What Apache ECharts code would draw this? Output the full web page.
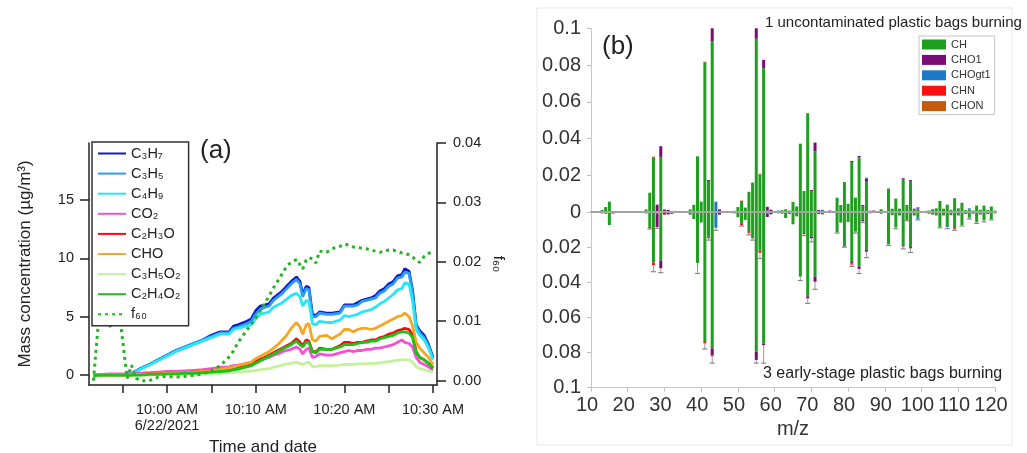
<!DOCTYPE html>
<html><head><meta charset="utf-8">
<script src="https://cdn.jsdelivr.net/npm/echarts@6/dist/echarts.min.js"></script>
<style>html,body{margin:0;padding:0;background:#fff}#c{width:1027px;height:453px}</style>
</head><body><div id="c"></div>
<script>
// ================= Panel (a) data =================
// time in minutes relative to 10:00 AM, 6/22/2021
const timeMin = [-8.3,-7.5,-6.3,-5.5,-4.5,-4.0,-3.5,-3.0,-2.0,-1.0,0,1,2,3,4,5,6,7,7.5,8,9,9.5,10,10.5,11,11.5,12,12.5,13,13.5,14,14.6,15.0,15.3,15.7,16.0,16.4,16.8,17.2,18,18.6,19.5,20.0,20.5,21,21.5,22,22.5,23,23.5,24,24.5,25,25.5,26,26.5,26.8,27.3,27.7,28.1,28.5,29,29.5,30];
const C3H7 = [-0.1,0,0.05,0,0.05,0.15,0.35,0.55,0.9,1.3,1.7,2.1,2.4,2.7,3.0,3.4,3.7,3.7,4.2,4.3,4.6,4.8,5.5,5.9,6.0,6.1,6.6,6.9,7.2,7.6,8.0,8.4,8.0,6.9,7.6,7.5,5.2,5.1,5.4,5.3,5.3,5.4,6.0,6.0,6.0,6.2,6.4,6.5,6.6,6.8,7.2,7.4,7.8,8.0,8.5,8.6,9.1,8.9,7.2,4.3,3.8,3.4,2.6,1.5];
const C3H5 = [-0.1,0,0.05,0,0.05,0.15,0.35,0.55,0.9,1.3,1.7,2.1,2.4,2.7,3.0,3.3,3.6,3.6,4.0,4.1,4.4,4.6,5.2,5.6,5.8,5.9,6.4,6.7,7.0,7.4,7.8,8.2,7.8,6.7,7.4,7.3,5.0,5.0,5.3,5.2,5.2,5.3,5.9,5.9,5.9,6.0,6.3,6.4,6.5,6.6,7.0,7.2,7.6,7.8,8.3,8.4,8.8,8.7,7.0,4.2,3.6,3.2,2.5,1.4];
const C4H9 = [-0.1,0,0.05,0,0.05,0.15,0.3,0.5,0.85,1.25,1.6,2.0,2.3,2.6,2.9,3.2,3.5,3.5,3.9,4.0,4.2,4.3,4.8,5.2,5.3,5.4,5.8,6.0,6.2,6.5,6.8,7.0,6.7,5.9,6.4,6.3,4.4,4.3,4.6,4.5,4.5,4.7,5.1,5.0,5.1,5.2,5.4,5.5,5.6,5.8,6.1,6.3,6.6,6.9,7.3,7.4,7.9,7.8,6.3,3.9,3.4,3.0,2.3,1.3];
const CO2 = [0,0.05,0.1,0.1,0.1,0.1,0.15,0.15,0.2,0.25,0.3,0.3,0.35,0.4,0.45,0.55,0.65,0.7,0.8,0.85,1.0,1.05,1.2,1.3,1.4,1.5,1.7,1.8,2.0,2.1,2.2,2.4,2.2,1.8,2.2,2.3,1.5,1.6,1.8,1.7,1.7,1.9,2.0,2.1,2.0,2.1,2.1,2.2,2.2,2.3,2.3,2.4,2.5,2.6,2.8,3.0,2.8,2.7,2.4,1.5,1.1,0.9,0.7,0.4];
const C2H3O = [-0.05,0,0,0,0,0,0.05,0.05,0.1,0.1,0.15,0.2,0.2,0.25,0.3,0.35,0.45,0.55,0.6,0.7,0.9,1.0,1.2,1.35,1.5,1.7,1.9,2.1,2.3,2.5,2.7,3.1,2.8,2.5,3.0,2.9,2.0,2.0,2.3,2.2,2.2,2.5,2.8,2.8,2.7,2.8,2.8,2.9,3.0,3.0,3.2,3.3,3.5,3.6,3.8,3.9,4.0,3.9,3.4,2.0,1.5,1.3,1.0,0.6];
const CHO = [-0.05,0,0,0,0,0,0.05,0.05,0.1,0.1,0.15,0.2,0.2,0.25,0.3,0.35,0.5,0.6,0.7,0.8,1.0,1.1,1.4,1.6,1.8,2.0,2.3,2.6,3.0,3.4,4.0,4.5,4.1,3.5,4.3,4.4,3.0,2.9,3.3,3.4,3.1,3.5,3.9,3.9,3.7,3.9,4.0,4.0,3.9,4.0,4.2,4.4,4.6,4.8,5.0,5.1,5.3,5.0,4.2,2.8,2.3,1.9,1.5,0.9];
const C3H5O2 = [-0.05,0,0,0,0,0,0,0,0,0.05,0.05,0.05,0.05,0.1,0.1,0.1,0.15,0.2,0.2,0.25,0.3,0.35,0.4,0.45,0.5,0.55,0.65,0.75,0.85,0.95,1.0,1.1,1.0,0.9,1.05,1.1,0.75,0.7,0.8,0.8,0.8,0.85,0.9,0.9,0.9,0.95,0.95,0.95,1.0,1.0,1.05,1.1,1.15,1.2,1.25,1.3,1.3,1.3,1.1,0.7,0.55,0.45,0.35,0.25];
const C2H4O2 = [-0.05,0,0,0,0,0,0,0,0.05,0.05,0.1,0.1,0.15,0.15,0.2,0.25,0.3,0.35,0.45,0.5,0.7,0.8,1.0,1.2,1.4,1.6,1.8,2.0,2.2,2.4,2.6,2.9,2.6,2.4,2.8,2.8,2.0,1.9,2.2,2.2,2.2,2.4,2.6,2.6,2.6,2.7,2.8,2.8,2.9,2.9,3.1,3.2,3.3,3.4,3.6,3.7,3.7,3.6,3.2,1.9,1.5,1.3,1.0,0.6];
const f60 = [0,0.014,0.0088,0.013,0.0004,0.0026,0.0004,0,0,0.0006,0.0007,0.0006,0.0007,0.0009,0.0011,0.0017,0.0025,0.004,0.005,0.0064,0.0085,0.0095,0.0106,0.0117,0.013,0.0142,0.0156,0.0168,0.018,0.0193,0.0199,0.0204,0.0195,0.0188,0.0203,0.0207,0.0205,0.0198,0.0218,0.0216,0.0222,0.0226,0.023,0.0228,0.0225,0.0224,0.0223,0.0222,0.022,0.0218,0.0216,0.0218,0.022,0.022,0.0217,0.0215,0.0214,0.0212,0.0208,0.0203,0.0199,0.0209,0.0214,0.0218];
const namesA = ['C₃H₇','C₃H₅','C₄H₉','CO₂','C₂H₃O','CHO','C₃H₅O₂','C₂H₄O₂','f₆₀'];
const xTickValues = [0,10,20,30];
const xTickLabels = ['10:00 AM\n6/22/2021','10:10 AM','10:20 AM','10:30 AM'];
const xMinorTicks = [-5,0,5,10,15,20,25,30];
const yLeftTicks = [0,5,10,15];
const yRightTicks = [0,0.01,0.02,0.03,0.04];

// ================= Panel (b) data =================
// m/z axis categories (10..120), labelled every 10
const mzAxis = [10,11,12,13,14,15,16,17,18,19,20,21,22,23,24,25,26,27,28,29,30,31,32,33,34,35,36,37,38,39,40,41,42,43,44,45,46,47,48,49,50,51,52,53,54,55,56,57,58,59,60,61,62,63,64,65,66,67,68,69,70,71,72,73,74,75,76,77,78,79,80,81,82,83,84,85,86,87,88,89,90,91,92,93,94,95,96,97,98,99,100,101,102,103,104,105,106,107,108,109,110,111,112,113,114,115,116,117,118,119,120];
// m/z of the measured bars (12..120)
const mz = [12,13,14,15,16,17,18,19,20,21,22,23,24,25,26,27,28,29,30,31,32,33,34,35,36,37,38,39,40,41,42,43,44,45,46,47,48,49,50,51,52,53,54,55,56,57,58,59,60,61,62,63,64,65,66,67,68,69,70,71,72,73,74,75,76,77,78,79,80,81,82,83,84,85,86,87,88,89,90,91,92,93,94,95,96,97,98,99,100,101,102,103,104,105,106,107,108,109,110,111,112,113,114,115,116,117,118,119,120];
const familiesB = ['CH','CHO1','CHOgt1','CHN','CHON'];
// spectrum 1 (upper, uncontaminated plastic bags burning)
const top_CH = [0.0003,0.0011,0.0027,0.0056,0.0004,0.0002,0.0002,0.0001,0.0001,0.0001,
0.0001,0.0001,0.0003,0.0014,0.0105,0.0295,0.0005,0.0300,0.0002,0.0002,
0.0001,0.0001,0.0001,0.0001,0.0003,0.0014,0.0039,0.0303,0.0056,0.0815,
0.0165,0.0928,0.0003,0.0003,0.0003,0.0002,0.0002,0.0006,0.0027,0.0060,
0.0024,0.0110,0.0160,0.0943,0.0205,0.0783,0.0008,0.0003,0.0003,0.0002,
0.0010,0.0015,0.0008,0.0055,0.0030,0.0372,0.0114,0.0535,0.0112,0.0330,
0.0003,0.0002,0.0004,0.0002,0.0002,0.0078,0.0038,0.0163,0.0044,0.0272,
0.0078,0.0298,0.0030,0.0165,0.0003,0.0002,0.0003,0.0015,0.0003,0.0128,
0.0018,0.0073,0.0018,0.0180,0.0038,0.0168,0.0012,0.0014,0.0003,0.0006,
0.0008,0.0015,0.0020,0.0060,0.0018,0.0040,0.0012,0.0075,0.0020,0.0046,
0.0010,0.0014,0.0008,0.0035,0.0012,0.0035,0.0010,0.0030,0.0008];
const top_CHO1 = [0,0,0,0,0,0,0,0,0,0,
0,0,0,0,0,0,0.0035,0.0058,0.0008,0.0010,
0.0004,0,0,0,0,0,0,0,0,0,
0.0009,0.0072,0,0.0010,0,0,0,0,0,0,
0,0,0,0.0057,0,0.0045,0.0020,0.0010,0,0,
0,0,0,0,0,0,0,0,0.0008,0.0048,
0.0008,0,0,0.0006,0,0,0,0,0,0.0006,
0,0.0007,0.0008,0.0016,0.0004,0.0006,0,0,0,0,
0,0,0,0.0004,0,0.0006,0.0006,0.0006,0,0,
0,0,0,0,0,0,0,0,0,0.0004,
0,0,0,0,0,0,0,0,0];
const top_CHOgt1 = [0,0,0,0,0,0,0,0,0,0,
0,0,0,0,0,0,0,0,0,0,
0,0,0,0,0,0,0,0,0,0,
0,0,0.0053,0.0003,0,0,0,0,0,0,
0,0,0,0,0,0,0,0,0,0.0006,
0,0,0,0,0,0,0,0,0,0,
0,0.0010,0,0,0.0004,0,0,0,0,0,
0,0,0,0.0006,0,0,0,0,0,0,
0,0,0,0,0,0,0,0.0006,0,0,
0,0,0,0,0,0,0,0,0,0,
0,0.0006,0,0,0,0,0,0,0];
const top_CHN = [0,0,0,0,0,0,0,0,0,0,
0,0,0,0,0,0.0006,0,0,0.0004,0,
0,0,0,0,0,0,0,0,0,0.0003,
0,0,0,0,0,0,0,0,0,0.0002,
0,0,0,0,0.0003,0,0,0,0,0,
0,0,0,0,0,0,0,0.0003,0,0,
0,0,0,0,0,0,0,0,0,0,
0,0,0,0,0,0,0,0,0,0,
0,0,0,0,0,0,0,0,0,0,
0,0,0,0,0,0,0,0,0,0,
0,0,0,0,0,0,0,0,0];
const top_CHON = [0,0,0,0,0,0,0,0,0,0,
0,0,0,0,0,0,0,0,0,0,
0,0,0,0,0,0,0,0,0,0,
0,0.0002,0,0,0,0,0,0,0,0,
0,0,0,0,0,0,0,0,0,0,
0,0,0,0,0,0,0,0,0,0,
0,0,0,0,0,0,0,0,0,0,
0,0,0,0,0,0,0,0,0,0,
0,0,0,0,0,0,0,0,0,0,
0,0,0,0,0,0,0,0,0,0,
0,0,0,0,0,0,0,0,0];
// spectrum 3 (lower, early-stage plastic bags burning)
const bot_CH = [0.0003,0.0008,0.0010,0.0074,0.0010,0.0002,0.0002,0.0001,0.0001,0.0001,
0.0001,0.0001,0.0002,0.0008,0.0085,0.0288,0.0010,0.0277,0.0002,0.0002,
0.0002,0.0001,0.0001,0.0001,0.0003,0.0015,0.0040,0.0290,0.0060,0.0740,
0.0140,0.0776,0.0005,0.0003,0.0004,0.0002,0.0002,0.0008,0.0030,0.0068,
0.0045,0.0115,0.0143,0.0795,0.0220,0.0750,0.0008,0.0003,0.0003,0.0002,
0.0010,0.0034,0.0012,0.0070,0.0025,0.0368,0.0120,0.0480,0.0140,0.0368,
0.0003,0.0002,0.0005,0.0002,0.0002,0.0108,0.0060,0.0190,0.0057,0.0285,
0.0112,0.0310,0.0045,0.0215,0.0003,0.0006,0.0004,0.0010,0.0003,0.0184,
0.0018,0.0088,0.0020,0.0190,0.0046,0.0200,0.0020,0.0032,0.0004,0.0006,
0.0010,0.0015,0.0020,0.0085,0.0020,0.0080,0.0018,0.0092,0.0020,0.0074,
0.0012,0.0030,0.0010,0.0052,0.0015,0.0048,0.0012,0.0040,0.0008];
const bot_CHO1 = [0,0,0,0,0,0,0,0,0,0,
0,0,0,0,0,0,0.0075,0.0043,0.0010,0.0012,
0.0008,0,0,0,0,0,0,0,0,0,
0.0006,0.0040,0,0.0012,0,0,0,0,0,0,
0,0,0,0.0047,0,0.0008,0.0020,0.0010,0,0,
0,0,0,0,0,0,0,0.0012,0.0010,0.0029,
0.0008,0,0,0,0.0004,0,0,0.0007,0,0.0008,
0,0.0014,0.0008,0.0011,0.0004,0,0,0,0,0,
0,0,0,0.0007,0,0.0007,0,0,0,0,
0,0,0,0,0,0,0,0,0,0,
0,0,0,0,0,0,0,0,0];
const bot_CHOgt1 = [0,0,0,0,0,0,0,0,0,0,
0,0,0,0,0,0,0,0,0,0,
0,0,0,0,0,0,0,0,0,0,
0,0,0.0085,0,0,0,0,0,0,0,
0,0,0,0,0,0,0,0,0,0.0005,
0,0,0,0,0,0,0,0,0,0,
0,0.0012,0,0.0004,0,0.0008,0,0,0,0,
0,0,0,0,0,0,0,0,0,0,
0,0,0,0,0,0,0,0.0008,0,0,
0,0,0,0,0,0.0006,0,0,0,0,
0,0.0006,0,0.0007,0,0,0,0,0];
const bot_CHN = [0,0,0,0,0,0,0,0,0,0,
0,0,0,0,0.0008,0.0014,0,0,0.0004,0,
0,0,0,0,0,0,0,0,0,0.0007,
0.0004,0,0,0,0,0,0,0,0,0.0006,
0,0.0006,0.0007,0,0.0012,0,0,0,0,0,
0,0,0,0,0,0,0.0007,0,0,0,
0,0,0,0,0,0,0,0,0,0.0007,
0,0,0,0,0,0,0,0,0,0,
0,0,0,0,0,0,0,0,0,0,
0,0,0,0,0,0,0,0.0006,0,0,
0,0,0,0,0,0,0,0,0];
const bot_CHON = [0,0,0,0,0,0,0,0,0,0,
0,0,0,0,0,0,0,0,0,0,
0,0,0,0,0,0,0,0,0,0,
0,0.0007,0,0,0,0,0,0,0,0,
0,0,0,0,0,0,0,0,0,0,
0,0,0,0,0,0,0,0,0,0,
0,0,0,0,0,0,0,0,0,0,
0,0,0,0,0,0,0,0,0,0,
0,0,0,0,0,0,0,0,0,0,
0,0,0,0,0,0,0,0,0,0,
0,0,0,0,0,0,0,0,0];
// error bar ends (lower spectrum)
const errMz  = [26,27,28,29,39,41,42,43,44,51,53,54,55,56,57,67,68,69,70,71,77,79,81,82,83,84,85,91,93,95,96,97,99,105,107,109,111,113,115,117,119];
const errVal = [0.0097,0.034,0.0093,0.0345,0.035,0.078,0.016,0.086,0.0105,0.008,0.013,0.016,0.086,0.0265,0.086,0.039,0.0135,0.052,0.017,0.044,0.012,0.020,0.031,0.012,0.035,0.006,0.026,0.019,0.0095,0.021,0.005,0.023,0.0045,0.009,0.0095,0.0104,0.008,0.004,0.0065,0.0056,0.0045];

// ================= build option =================
const FONT = 'Liberation Sans, Arial, sans-serif';
const lineColors = ['#0c1bc4','#2a9cf2','#2ae6f5','#f550d6','#f20d0d','#f5a623','#c4f29c','#18c418','#22b422'];
const lineData = [C3H7,C3H5,C4H9,CO2,C2H3O,CHO,C3H5O2,C2H4O2];
const barColors = ['#1f9e1f','#7a0c7a','#1f78c4','#ff1010','#c45a10'];
const topSets = [top_CH,top_CHO1,top_CHOgt1,top_CHN,top_CHON];
const botSets = [bot_CH,bot_CHO1,bot_CHOgt1,bot_CHN,bot_CHON];
const onAxis = (arr) => mzAxis.map(m => { const i = mz.indexOf(m); return i < 0 ? 0 : arr[i]; });

const series = [];
lineData.forEach((arr, k) => {
  series.push({name: namesA[k], type:'line', xAxisIndex:0, yAxisIndex:0, symbol:'none',
    lineStyle:{width:2.8, color:lineColors[k]}, itemStyle:{color:lineColors[k]},
    data: timeMin.map((t,i)=>[t, arr[i]])});
});
series.push({name: namesA[8], type:'line', xAxisIndex:0, yAxisIndex:1, symbol:'none',
  lineStyle:{width:3, color:lineColors[8], type:[3,4]}, itemStyle:{color:lineColors[8]},
  data: timeMin.map((t,i)=>[t, f60[i]])});

familiesB.forEach((fam, k) => {
  series.push({name: fam, type:'bar', xAxisIndex:1, yAxisIndex:2, stack:'upper', barWidth:3,
    itemStyle:{color:barColors[k]}, data: onAxis(topSets[k])});
  series.push({name: fam, type:'bar', xAxisIndex:2, yAxisIndex:3, stack:'lower', barWidth:3,
    itemStyle:{color:barColors[k]}, data: onAxis(botSets[k])});
});
series.push({name:'err', type:'custom', xAxisIndex:2, yAxisIndex:3, z:3,
  data: errMz.map((m,k)=>{ const i = mz.indexOf(m); const tot = botSets.reduce((s,a)=>s+a[i],0); return [mzAxis.indexOf(m), tot, errVal[k]]; }),
  encode:{x:0, y:[1,2]},
  renderItem: function(params, api){
    const p1 = api.coord([api.value(0), api.value(1)]);
    const p2 = api.coord([api.value(0), api.value(2)]);
    return {type:'group', children:[
      {type:'line', shape:{x1:p1[0],y1:p1[1],x2:p2[0],y2:p2[1]}, style:{stroke:'#9a9a9a', lineWidth:1}},
      {type:'line', shape:{x1:p2[0]-2.5,y1:p2[1],x2:p2[0]+2.5,y2:p2[1]}, style:{stroke:'#8a8a8a', lineWidth:1.2}}
    ]};
  }
});

const axCol = '#222';
const option = {
  animation:false,
  backgroundColor:'#fff',
  textStyle:{fontFamily:FONT},
  grid:[
    {left:89, top:143, width:348, height:242, outerBoundsMode:'none', containLabel:false},
    {left:591, top:28.3, width:404, height:183.7, outerBoundsMode:'none', containLabel:false},
    {left:591, top:212, width:404, height:175.7, outerBoundsMode:'none', containLabel:false}
  ],
  xAxis:[
    {gridIndex:0, type:'value', min:-8.8, max:30.45,
      axisLine:{show:true, onZero:false, lineStyle:{color:axCol, width:1.5}},
      axisTick:{show:true, customValues:xMinorTicks, length:8, lineStyle:{color:axCol, width:1.5}},
      axisLabel:{customValues:xTickValues, formatter:(v)=>xTickLabels[xTickValues.indexOf(v)], fontSize:14.5, color:axCol, margin:17, lineHeight:16},
      splitLine:{show:false},
      name:'Time and date', nameLocation:'middle', nameGap:47, nameTextStyle:{fontSize:17, color:axCol}},
    {gridIndex:1, type:'category', data:mzAxis, boundaryGap:false, z:5,
      axisLine:{show:true, onZero:true, lineStyle:{color:'#a3a3a3', width:2}},
      axisTick:{show:false}, axisLabel:{show:false}, splitLine:{show:false}},
    {gridIndex:2, type:'category', data:mzAxis, boundaryGap:false, position:'bottom',
      axisLine:{show:true, onZero:false, lineStyle:{color:'#c8c8c8', width:1}},
      axisTick:{show:true, interval:9, length:4, lineStyle:{color:'#c0c0c0'}},
      axisLabel:{interval:9, fontSize:20, color:'#333', margin:8, padding:[0,8,0,0]},
      splitLine:{show:false},
      name:'m/z', nameLocation:'middle', nameGap:32, nameTextStyle:{fontSize:20, color:'#333'}}
  ],
  yAxis:[
    {gridIndex:0, type:'value', min:-0.857, max:19.88, position:'left',
      axisLine:{show:true, onZero:false, lineStyle:{color:axCol, width:1.5}},
      axisTick:{show:true, customValues:yLeftTicks, length:9, lineStyle:{color:axCol, width:1.5}},
      axisLabel:{customValues:yLeftTicks, fontSize:14.5, color:axCol, margin:15},
      splitLine:{show:false},
      name:'Mass concentration (µg/m³)', nameLocation:'middle', nameGap:55, nameRotate:90,
      nameTextStyle:{fontSize:17, color:axCol}},
    {gridIndex:0, type:'value', min:-0.00073, max:0.04, position:'right',
      axisLine:{show:true, onZero:false, lineStyle:{color:axCol, width:1.5}},
      axisTick:{show:true, customValues:yRightTicks, length:9, lineStyle:{color:axCol, width:1.5}},
      axisLabel:{customValues:yRightTicks, formatter:(v)=>v.toFixed(2), fontSize:14.5, color:axCol, margin:16},
      splitLine:{show:false},
      name:'f₆₀', nameLocation:'middle', nameGap:54, nameRotate:-90,
      nameTextStyle:{fontSize:15, color:axCol}},
    {gridIndex:1, type:'value', min:0, max:0.1, interval:0.02,
      axisLine:{show:true, lineStyle:{color:'#c8c8c8'}},
      axisTick:{show:true, length:4, lineStyle:{color:'#c0c0c0'}},
      axisLabel:{fontSize:20, color:'#333', margin:10, formatter:(v)=> v===0?'0':String(+v.toFixed(2))},
      splitLine:{show:false}},
    {gridIndex:2, type:'value', min:0, max:0.1, interval:0.02, inverse:true,
      axisLine:{show:true, lineStyle:{color:'#c8c8c8'}},
      axisTick:{show:true, length:4, lineStyle:{color:'#c0c0c0'}},
      axisLabel:{fontSize:20, color:'#333', margin:10, formatter:(v)=> v===0?'':String(+v.toFixed(2))},
      splitLine:{show:false}}
  ],
  legend:[
    {data:namesA, orient:'vertical', left:92, top:142, itemWidth:28, itemHeight:14, itemGap:5.1,
      padding:[4,8,4,5], borderColor:'#333', borderWidth:1.5, backgroundColor:'#fff',
      itemStyle:{opacity:0},
      textStyle:{fontSize:14.5, color:axCol, lineHeight:14}, selectedMode:false},
    {data:familiesB.map(n=>({name:n, icon:'rect'})), orient:'vertical', left:919, top:36, itemWidth:24, itemHeight:10, itemGap:4.4,
      padding:[3,4,3,3], borderColor:'#c4c4c4', borderWidth:1, backgroundColor:'#fff',
      textStyle:{fontSize:11, color:'#333', lineHeight:10}, selectedMode:false}
  ],
  graphic:[
    {type:'rect', shape:{x:537, y:8, width:475, height:437}, style:{fill:'none', stroke:'#e8e8e8', lineWidth:1}, z:-1},
    {type:'text', left:200, top:138, style:{text:'(a)', fontSize:26, fill:axCol, fontFamily:FONT}},
    {type:'text', left:602, top:34, style:{text:'(b)', fontSize:26, fill:axCol, fontFamily:FONT}},
    {type:'text', left:765, top:15, style:{text:'1 uncontaminated plastic bags burning', fontSize:15, fill:'#222', fontFamily:FONT}},
    {type:'text', left:763, top:366, style:{text:'3 early-stage plastic bags burning', fontSize:16, fill:'#222', fontFamily:FONT}}
  ],
  series: series
};
const chart = echarts.init(document.getElementById('c'), null, {renderer:'canvas'});
chart.setOption(option);
</script>
</body></html>
